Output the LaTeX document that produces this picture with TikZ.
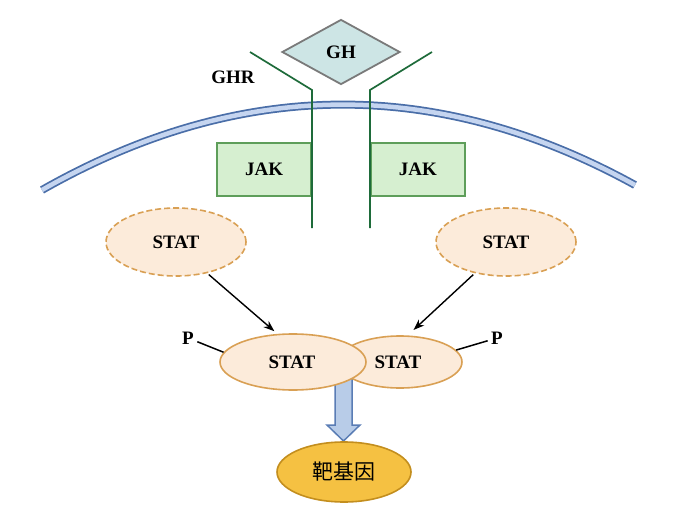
\documentclass[tikz,border=0pt]{standalone}
\usepackage{fontspec}
\setmainfont{Liberation Serif}
\newfontfamily\cjk{Noto Sans CJK SC}
\usetikzlibrary{shapes.geometric,arrows.meta}
\definecolor{ghfill}{HTML}{CDE5E5}
\definecolor{ghline}{HTML}{7A7A7A}
\definecolor{rcgreen}{HTML}{1E6B3A}
\definecolor{jakfill}{HTML}{D6EFD0}
\definecolor{jakline}{HTML}{5E9E5A}
\definecolor{statfill}{HTML}{FCEBDA}
\definecolor{statline}{HTML}{D9A054}
\definecolor{genefill}{HTML}{F5C142}
\definecolor{geneline}{HTML}{C38E1E}
\definecolor{memdark}{HTML}{4A6EA8}
\definecolor{memlight}{HTML}{C5D5F0}
\definecolor{barrowfill}{HTML}{B8CCE8}
\definecolor{barrowline}{HTML}{5A7DB5}
\begin{document}
\begin{tikzpicture}[x=1pt,y=-1pt,
	every node/.style={font=\fontsize{19}{21}\selectfont\bfseries},
	ghbox/.style={diamond,draw=ghline,fill=ghfill,line width=1.8pt,inner sep=0pt,minimum width=118pt,minimum height=65pt},
	jakbox/.style={rectangle,draw=jakline,fill=jakfill,line width=1.6pt,minimum width=94pt,minimum height=53pt},
	statfree/.style={ellipse,draw=statline,fill=statfill,dash pattern=on 6pt off 3pt,line width=1.6pt,inner sep=0pt,minimum width=140pt,minimum height=68pt},
	statpair/.style={ellipse,draw=statline,fill=statfill,line width=1.6pt,inner sep=0pt},
	receptor/.style={draw=rcgreen,line width=1.7pt},
	signal/.style={-{Stealth[length=11pt,width=8pt]},line width=1.4pt}]
	\useasboundingbox (0,0) rectangle (681,514);
	
	% membrane
	\draw[line width=8pt,color=memdark] (42,190) .. controls (239,78) and (437,76) .. (635,185);
	\draw[line width=4.5pt,color=memlight] (42,190) .. controls (239,78) and (437,76) .. (635,185);
	
	% receptor
	\coordinate (rl1) at (250,52);
	\coordinate (rl2) at (312,90);
	\coordinate (rl3) at (312,228);
	\coordinate (rr1) at (432,52);
	\coordinate (rr2) at (370,90);
	\coordinate (rr3) at (370,228);
	\node[jakbox,anchor=east] (jakL) at (312,169.5) {JAK};
	\node[jakbox,anchor=west] (jakR) at (370,169.5) {JAK};
	\draw[receptor] (rl1) -- (rl2) -- (rl3);
	\draw[receptor] (rr1) -- (rr2) -- (rr3);
	\node[ghbox] (gh) at (341,52) {GH};
	\node (ghr) at (233,77) {GHR};
	
	% STAT
	\node[statfree] (statL) at (176,242) {STAT};
	\node[statfree] (statR) at (506,242) {STAT};
	
	\draw[draw=barrowline,fill=barrowfill,line width=1.5pt] (335,378) -- (352,378) -- (352,425) -- (360,425) -- (343.5,441) -- (327,425) -- (335,425) -- cycle;
	
	\node[statpair,minimum width=124pt,minimum height=52pt] (pairR) at (400,362) {};
	\node[statpair,minimum width=146pt,minimum height=56pt] (pairL) at (293,362) {};
	\node (txtL) at (292,362) {STAT};
	\node (txtR) at (398,362) {STAT};
	
	\draw[signal,shorten <=2pt,shorten >=4pt] (statL.-45) -- (pairL.119);
	\draw[signal,shorten <=2pt,shorten >=8pt] (statR.-135) -- (pairR.74);
	
	\node (pL) at (188,338) {P};
	\node (pR) at (497,338) {P};
	\draw[line width=1.5pt] (pL) -- (pairL.172);
	\draw[line width=1.5pt] (pR) -- (pairR.12);
	
	% target gene
	\node[ellipse,draw=geneline,fill=genefill,line width=1.6pt,inner sep=0pt,minimum width=134pt,minimum height=60pt,font=\fontsize{21}{23}\selectfont\cjk] (gene) at (344,472) {靶基因};
\end{tikzpicture}
\end{document}
